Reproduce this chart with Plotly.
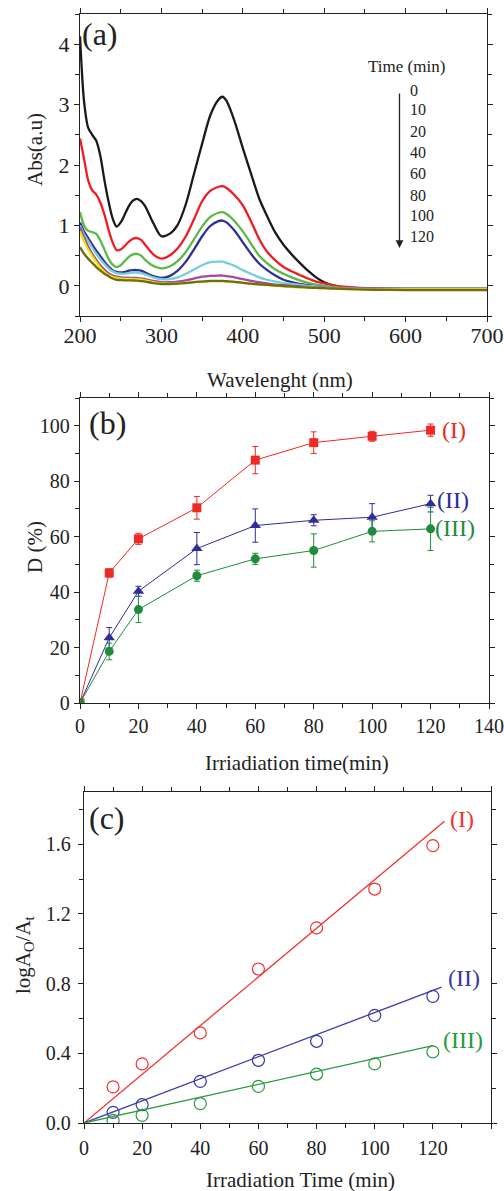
import plotly.graph_objects as go

# ---------------- (a) UV-vis spectra ----------------
wavelength = [200, 205, 210, 215, 220, 225, 230, 235, 240, 245, 250, 255, 260, 265, 270, 275,
              280, 290, 300, 310, 320, 330, 340, 350, 360, 370, 375, 380, 390, 400, 410, 420,
              430, 440, 450, 460, 470, 480, 490, 500, 510, 520, 540, 560, 600, 650, 700]

abs_0 = [4.13, 3.05, 2.62, 2.5, 2.4, 2.15, 1.75, 1.4, 1.12, 0.98, 1.05, 1.18, 1.32, 1.41, 1.44, 1.4,
         1.32, 1.04, 0.82, 0.86, 1.01, 1.35, 1.85, 2.35, 2.82, 3.08, 3.13, 3.06, 2.72, 2.28, 1.86, 1.45,
         1.15, 0.88, 0.68, 0.52, 0.38, 0.25, 0.14, 0.06, 0.01, -0.02, -0.04, -0.05, -0.05, -0.05, -0.05]
abs_10 = [2.44, 2.1, 1.75, 1.58, 1.51, 1.38, 1.18, 0.93, 0.72, 0.59, 0.6, 0.66, 0.73, 0.78, 0.79, 0.76,
          0.68, 0.52, 0.45, 0.5, 0.62, 0.82, 1.1, 1.4, 1.57, 1.64, 1.65, 1.62, 1.5, 1.33, 1.07, 0.78,
          0.56, 0.42, 0.31, 0.24, 0.18, 0.12, 0.07, 0.04, 0.01, -0.01, -0.03, -0.04, -0.05, -0.05, -0.05]
abs_20 = [1.22, 1.0, 0.91, 0.89, 0.86, 0.75, 0.6, 0.45, 0.35, 0.31, 0.34, 0.41, 0.48, 0.52, 0.53, 0.5,
          0.43, 0.33, 0.29, 0.32, 0.41, 0.56, 0.77, 0.98, 1.14, 1.21, 1.22, 1.19, 1.07, 0.9, 0.7, 0.5,
          0.37, 0.27, 0.2, 0.14, 0.09, 0.05, 0.02, 0.0, -0.02, -0.03, -0.04, -0.05, -0.05, -0.05, -0.05]
abs_40 = [1.05, 0.9, 0.79, 0.68, 0.58, 0.49, 0.4, 0.32, 0.26, 0.23, 0.22, 0.23, 0.25, 0.26, 0.26, 0.25,
          0.22, 0.16, 0.13, 0.16, 0.25, 0.4, 0.6, 0.82, 0.99, 1.07, 1.08, 1.05, 0.91, 0.72, 0.53, 0.37,
          0.26, 0.17, 0.1, 0.06, 0.03, 0.01, -0.01, -0.02, -0.03, -0.04, -0.05, -0.05, -0.05, -0.05, -0.05]
abs_60 = [1.0, 0.85, 0.74, 0.63, 0.53, 0.44, 0.36, 0.29, 0.24, 0.21, 0.2, 0.2, 0.21, 0.22, 0.22, 0.21,
          0.19, 0.14, 0.11, 0.11, 0.14, 0.2, 0.27, 0.34, 0.39, 0.4, 0.4, 0.38, 0.33, 0.26, 0.2, 0.14,
          0.1, 0.07, 0.045, 0.03, 0.015, 0.0, -0.01, -0.02, -0.03, -0.04, -0.05, -0.05, -0.05, -0.05, -0.05]
abs_80 = [0.97, 0.8, 0.65, 0.53, 0.43, 0.34, 0.27, 0.21, 0.17, 0.15, 0.14, 0.135, 0.135, 0.13, 0.13, 0.12,
          0.11, 0.08, 0.06, 0.06, 0.07, 0.09, 0.12, 0.15, 0.165, 0.17, 0.17, 0.16, 0.14, 0.11, 0.08, 0.06,
          0.04, 0.02, 0.01, 0.0, -0.01, -0.02, -0.025, -0.03, -0.04, -0.04, -0.05, -0.05, -0.06, -0.06, -0.06]
abs_100 = [0.9, 0.74, 0.6, 0.49, 0.39, 0.3, 0.23, 0.18, 0.15, 0.13, 0.12, 0.115, 0.115, 0.11, 0.11, 0.1,
           0.09, 0.06, 0.04, 0.035, 0.04, 0.05, 0.06, 0.07, 0.075, 0.075, 0.075, 0.07, 0.06, 0.05, 0.035, 0.02,
           0.01, 0.0, -0.01, -0.02, -0.025, -0.03, -0.035, -0.04, -0.045, -0.05, -0.055, -0.06, -0.06, -0.06, -0.06]
abs_120 = [0.64, 0.53, 0.45, 0.38, 0.31, 0.25, 0.2, 0.16, 0.12, 0.1, 0.095, 0.09, 0.09, 0.088, 0.085, 0.078,
           0.07, 0.045, 0.03, 0.03, 0.035, 0.045, 0.06, 0.07, 0.08, 0.08, 0.08, 0.075, 0.065, 0.05, 0.035, 0.025,
           0.015, 0.005, -0.005, -0.01, -0.02, -0.03, -0.035, -0.04, -0.045, -0.05, -0.06, -0.065, -0.07, -0.07, -0.07]

spectra_times = [0, 10, 20, 40, 60, 80, 100, 120]
spectra = [abs_0, abs_10, abs_20, abs_40, abs_60, abs_80, abs_100, abs_120]
spectra_colors = ["#1a1a1a", "#ee1c25", "#5cb946", "#2e3192", "#74d0d2", "#a349a4", "#f2e600", "#6e6c14"]

# ---------------- (b) degradation efficiency ----------------
time_b = [0, 10, 20, 40, 60, 80, 100, 120]
D_I = [0, 46.9, 59.2, 70.4, 87.6, 93.9, 96.2, 98.4]
D_I_err = [0, 1.5, 2.0, 4.1, 4.9, 3.9, 1.8, 2.2]
D_II = [0, 23.5, 40.3, 55.7, 64.0, 65.9, 67.0, 71.9]
D_II_err = [0, 3.7, 1.8, 5.8, 6.0, 2.0, 4.9, 3.0]
D_III = [0, 18.6, 33.7, 45.9, 52.0, 55.0, 61.9, 62.8]
D_III_err = [0, 3.0, 4.7, 2.0, 2.0, 6.0, 3.8, 7.8]

# ---------------- (c) kinetics ----------------
time_c = [10, 20, 40, 60, 80, 100, 120]
logA_I = [0.207, 0.339, 0.517, 0.884, 1.12, 1.343, 1.592]
logA_II = [0.061, 0.105, 0.239, 0.36, 0.469, 0.618, 0.727]
logA_III = [0.015, 0.044, 0.111, 0.21, 0.281, 0.339, 0.408]
fit_slope = [0.01397, 0.00634, 0.0037]
fit_end = [124, 123, 120]

series_labels = ["(I)", "(II)", "(III)"]
colors_b = ["#ee2a24", "#2e2e98", "#1e8c3c"]
colors_c = ["#f03232", "#3a3aa8", "#2a9a40"]

FONT = "Times New Roman, Liberation Serif, serif"
W, H = 504, 1191
ML, MR, MT, MB = 80, 13, 14, 68
PW, PH = W - ML - MR, H - MT - MB


def px_x(p):
    return (p - ML) / PW


def px_y(p):
    return (H - MB - p) / PH


fig = go.Figure()

for t, a, c in zip(spectra_times, spectra, spectra_colors):
    fig.add_trace(go.Scatter(x=wavelength, y=a, mode="lines", name=f"{t} min",
                             line=dict(color=c, width=2.3, shape="spline", smoothing=0.8),
                             xaxis="x", yaxis="y", showlegend=False))

markers_b = ["square", "triangle-up", "circle"]
for D, err, col, sym in zip([D_I, D_II, D_III], [D_I_err, D_II_err, D_III_err], colors_b, markers_b):
    fig.add_trace(go.Scatter(x=time_b, y=D, mode="lines+markers",
                             line=dict(color=col, width=1),
                             marker=dict(symbol=sym, size=9 if sym != "triangle-up" else 10, color=col),
                             error_y=dict(type="data", array=err, visible=True, color=col,
                                          thickness=1, width=3),
                             xaxis="x2", yaxis="y2", showlegend=False))

for vals, k, xe, col in zip([logA_I, logA_II, logA_III], fit_slope, fit_end, colors_c):
    fig.add_trace(go.Scatter(x=[0, xe], y=[0, k * xe], mode="lines",
                             line=dict(color=col, width=1.3),
                             xaxis="x3", yaxis="y3", showlegend=False))
    fig.add_trace(go.Scatter(x=time_c, y=vals, mode="markers",
                             marker=dict(symbol="circle-open", size=12, color=col,
                                         line=dict(width=1.2, color=col)),
                             xaxis="x3", yaxis="y3", showlegend=False))


def axis(domain, rng, dtick, minor, size, anchor, fmt=None, standoff=0):
    d = dict(domain=domain, range=rng, dtick=dtick, tick0=0, showline=True, linecolor="#222",
             linewidth=1.3, mirror="allticks", ticks="outside", ticklen=5, tickwidth=1.1,
             tickcolor="#222", showgrid=False, zeroline=False, anchor=anchor, automargin=False,
             ticklabelstandoff=standoff,
             tickfont=dict(family=FONT, size=size, color="#222"),
             minor=dict(ticks="outside", ticklen=4, tickwidth=1, tickcolor="#222", dtick=minor,
                        showgrid=False))
    if fmt:
        d["tickformat"] = fmt
    return d


fig.update_layout(
    width=W, height=H, margin=dict(l=ML, r=MR, t=MT, b=MB, autoexpand=False),
    paper_bgcolor="white", plot_bgcolor="white", showlegend=False,
    font=dict(family=FONT, color="#222"),
    xaxis=axis([0, px_x(487)], [200, 700], 100, 50, 22, "y", standoff=-6),
    yaxis=axis([px_y(316), px_y(14)], [-0.5, 4.5], 1, 0.5, 22, "x"),
    xaxis2=axis([0, px_x(489)], [0, 140], 20, 10, 20, "y2"),
    yaxis2=axis([px_y(703), px_y(398)], [0, 110], 20, 10, 20, "x2"),
    xaxis3=axis([px_x(84), 1], [0, 140], 20, 10, 20, "y3", standoff=2),
    yaxis3=axis([px_y(1123), px_y(792)], [0, 1.9], 0.4, 0.2, 20, "x3", ".1f", standoff=3),
)

ann = []


def text(x, y, s, size, color="#222", angle=0, xanchor="center"):
    ann.append(dict(x=px_x(x), y=px_y(y), xref="paper", yref="paper", text=s, showarrow=False,
                    font=dict(family=FONT, size=size, color=color), textangle=angle,
                    xanchor=xanchor, yanchor="middle"))


# panel letters
text(100, 34, "(a)", 32)
text(107, 423, "(b)", 32)
text(107, 818, "(c)", 32)

# axis titles
text(280, 380, "Wavelenght (nm)", 21)
text(35, 150, "Abs(a.u)", 21, angle=-90)
text(297, 763, "Irriadiation time(min)", 21)
text(35, 547, "D (%)", 21, angle=-90)
text(300, 1180, "Irradiation Time (min)", 21)
text(24, 955, "logA<sub>O</sub>/A<sub>t</sub>", 21, angle=-90)

# time legend of the spectra
text(406, 67, "Time (min)", 17)
label_rows = [90, 110, 131.5, 152.5, 173.5, 195, 215.5, 236.5]
for t, yy in zip(spectra_times, label_rows):
    text(408, yy, str(t), 16, xanchor="left")
ann.append(dict(x=px_x(399.5), y=px_y(248), xref="paper", yref="paper",
                ax=0, ay=-(248 - 92), axref="pixel", ayref="pixel",
                showarrow=True, arrowhead=2, arrowsize=1.2, arrowwidth=1.3, arrowcolor="#222", text=""))

# series labels
for lab, col, (x, y) in zip(series_labels, colors_b, [(440, 430), (435, 500), (433, 528)]):
    text(x, y, lab, 24, color=col, xanchor="left")
for lab, col, (x, y) in zip(series_labels, colors_c, [(448, 819), (446, 978), (441, 1040)]):
    text(x, y, lab, 24, color=col, xanchor="left")

fig.update_layout(annotations=ann)
fig.write_html("out.html")
